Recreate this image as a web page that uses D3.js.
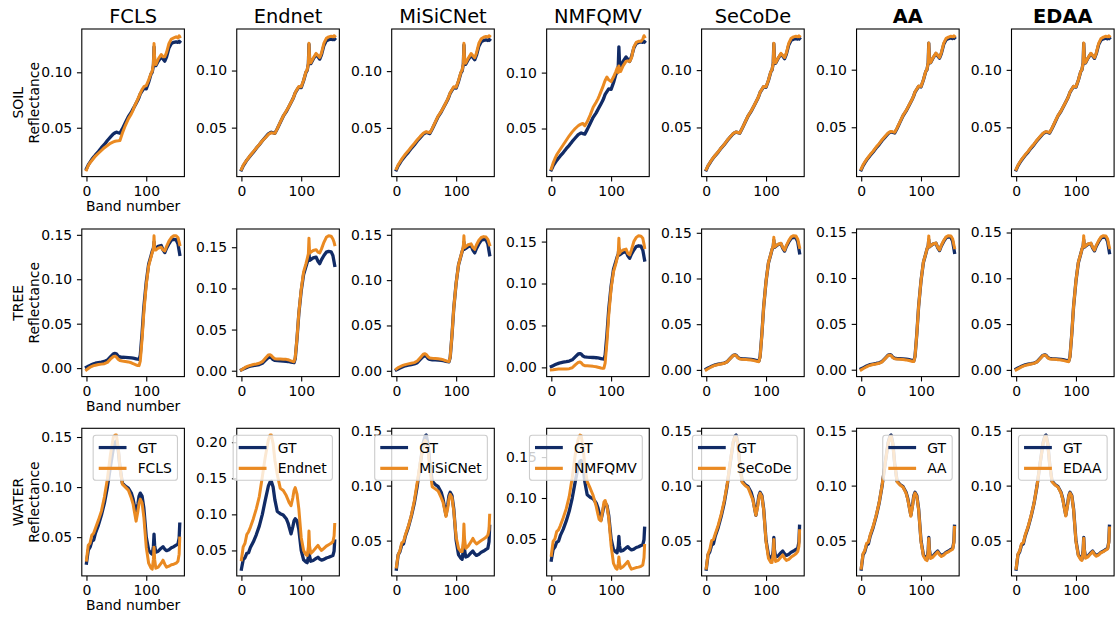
<!DOCTYPE html>
<html><head><meta charset="utf-8">
<script src="https://cdn.jsdelivr.net/npm/d3@7"></script>
<style>
body{margin:0;background:#fff}
svg{display:block}
text{font-family:"DejaVu Sans",sans-serif;fill:#000}
</style>
</head><body>
<svg id="chart" width="1115" height="618"></svg>
<script>
// ---------------- DATA ----------------
const bands = [0,3,6,9,12,15,20,25,30,35,40,45,48,50,53,56,60,65,70,75,78,80,83,86,88,90,93,96,100,104,108,110,112,113,114,116,120,125,128,131,134,138,142,146,150,153,155,156];
const methods = ["FCLS","Endnet","MiSiCNet","NMFQMV","SeCoDe","AA","EDAA"];
const boldMethods = ["AA","EDAA"];
const materials = ["SOIL","TREE","WATER"];
const xTickValues = [0,100];
const yTickStep = 0.05;

const gtSoil = [0.0130,0.0165,0.0190,0.0215,0.0235,0.0255,0.0285,0.0320,0.0350,0.0385,0.0415,0.0445,0.0455,0.0460,0.0455,0.0450,0.0490,0.0545,0.0600,0.0640,0.0670,0.0690,0.0720,0.0750,0.0775,0.0805,0.0830,0.0855,0.0850,0.0910,0.0985,0.1000,0.1060,0.1230,0.1100,0.1060,0.1100,0.1140,0.1120,0.1100,0.1140,0.1220,0.1260,0.1270,0.1275,0.1270,0.1280,0.1275];
const soilFCLS = [0.0120,0.0160,0.0185,0.0205,0.0225,0.0245,0.0270,0.0295,0.0320,0.0340,0.0360,0.0372,0.0378,0.0380,0.0382,0.0385,0.0450,0.0520,0.0580,0.0625,0.0660,0.0690,0.0725,0.0760,0.0785,0.0810,0.0845,0.0870,0.0880,0.0930,0.0990,0.1010,0.1080,0.1260,0.1120,0.1070,0.1120,0.1160,0.1140,0.1140,0.1180,0.1260,0.1300,0.1310,0.1320,0.1310,0.1330,0.1320];
const soilEndnet = [0.0135,0.0170,0.0195,0.0215,0.0238,0.0258,0.0290,0.0322,0.0352,0.0385,0.0412,0.0440,0.0450,0.0455,0.0452,0.0450,0.0492,0.0548,0.0602,0.0645,0.0672,0.0692,0.0722,0.0752,0.0778,0.0808,0.0835,0.0860,0.0858,0.0915,0.0990,0.1005,0.1065,0.1240,0.1105,0.1068,0.1108,0.1150,0.1132,0.1115,0.1155,0.1240,0.1282,0.1295,0.1300,0.1295,0.1305,0.1300];
const soilMiSiCNet = [0.0140,0.0175,0.0200,0.0225,0.0247,0.0268,0.0298,0.0332,0.0362,0.0395,0.0425,0.0452,0.0462,0.0466,0.0462,0.0458,0.0495,0.0550,0.0605,0.0645,0.0673,0.0693,0.0723,0.0755,0.0780,0.0810,0.0836,0.0862,0.0858,0.0918,0.0992,0.1008,0.1068,0.1245,0.1108,0.1070,0.1112,0.1155,0.1135,0.1118,0.1160,0.1245,0.1285,0.1298,0.1305,0.1300,0.1312,0.1308];
const soilNMFQMV = [0.0140,0.0190,0.0230,0.0265,0.0290,0.0315,0.0355,0.0395,0.0435,0.0470,0.0500,0.0525,0.0535,0.0540,0.0545,0.0525,0.0560,0.0620,0.0690,0.0735,0.0765,0.0790,0.0830,0.0870,0.0900,0.0930,0.0960,0.0935,0.0920,0.0960,0.1010,0.1040,0.1000,0.1060,0.1030,0.1010,0.1060,0.1100,0.1105,0.1100,0.1130,0.1230,0.1270,0.1280,0.1280,0.1300,0.1330,0.1320];
const soilSeCoDe = [0.0135,0.0168,0.0192,0.0218,0.0238,0.0258,0.0288,0.0322,0.0352,0.0388,0.0418,0.0447,0.0457,0.0460,0.0456,0.0452,0.0492,0.0547,0.0602,0.0643,0.0672,0.0692,0.0722,0.0752,0.0777,0.0807,0.0833,0.0858,0.0855,0.0913,0.0988,0.1003,0.1063,0.1235,0.1103,0.1064,0.1104,0.1146,0.1128,0.1110,0.1150,0.1235,0.1278,0.1290,0.1295,0.1290,0.1300,0.1295];
const soilAA = [0.0138,0.0172,0.0198,0.0222,0.0243,0.0263,0.0293,0.0328,0.0358,0.0392,0.0422,0.0450,0.0460,0.0464,0.0460,0.0456,0.0495,0.0550,0.0604,0.0644,0.0673,0.0693,0.0722,0.0752,0.0778,0.0808,0.0833,0.0858,0.0855,0.0913,0.0988,0.1003,0.1062,0.1232,0.1102,0.1062,0.1103,0.1144,0.1125,0.1106,0.1147,0.1230,0.1272,0.1283,0.1290,0.1285,0.1295,0.1290];
const soilEDAA = [0.0136,0.0170,0.0196,0.0220,0.0241,0.0261,0.0291,0.0326,0.0356,0.0390,0.0420,0.0449,0.0459,0.0463,0.0459,0.0455,0.0494,0.0549,0.0603,0.0643,0.0672,0.0692,0.0722,0.0752,0.0777,0.0807,0.0832,0.0857,0.0854,0.0912,0.0987,0.1002,0.1062,0.1233,0.1102,0.1063,0.1103,0.1144,0.1125,0.1106,0.1147,0.1230,0.1273,0.1285,0.1292,0.1287,0.1297,0.1292];

const gtTree = [0.0010,0.0020,0.0030,0.0040,0.0048,0.0055,0.0062,0.0068,0.0075,0.0090,0.0125,0.0160,0.0165,0.0160,0.0135,0.0125,0.0122,0.0120,0.0118,0.0115,0.0112,0.0110,0.0105,0.0100,0.0098,0.0145,0.0390,0.0690,0.0970,0.1170,0.1265,0.1315,0.1350,0.1420,0.1340,0.1350,0.1370,0.1380,0.1330,0.1300,0.1350,0.1400,0.1440,0.1450,0.1445,0.1400,0.1320,0.1280];
const treeFCLS = [-0.0020,-0.0005,0.0010,0.0020,0.0028,0.0033,0.0040,0.0045,0.0050,0.0065,0.0100,0.0130,0.0135,0.0125,0.0100,0.0085,0.0080,0.0075,0.0070,0.0060,0.0050,0.0045,0.0035,0.0030,0.0028,0.0080,0.0330,0.0630,0.0940,0.1150,0.1250,0.1300,0.1340,0.1490,0.1330,0.1330,0.1350,0.1360,0.1330,0.1320,0.1370,0.1430,0.1470,0.1490,0.1490,0.1470,0.1420,0.1390];
const treeEndnet = [0.0010,0.0025,0.0040,0.0050,0.0058,0.0065,0.0075,0.0082,0.0090,0.0110,0.0150,0.0190,0.0195,0.0185,0.0160,0.0145,0.0143,0.0142,0.0140,0.0138,0.0133,0.0128,0.0120,0.0113,0.0110,0.0160,0.0400,0.0700,0.0990,0.1200,0.1300,0.1360,0.1420,0.1610,0.1430,0.1440,0.1460,0.1470,0.1440,0.1430,0.1480,0.1560,0.1620,0.1640,0.1635,0.1600,0.1560,0.1530];
const treeMiSiCNet = [0.0020,0.0035,0.0045,0.0055,0.0062,0.0068,0.0076,0.0083,0.0090,0.0108,0.0145,0.0182,0.0188,0.0180,0.0155,0.0142,0.0138,0.0135,0.0132,0.0128,0.0123,0.0118,0.0110,0.0104,0.0102,0.0150,0.0390,0.0690,0.0970,0.1170,0.1270,0.1320,0.1370,0.1490,0.1360,0.1370,0.1390,0.1400,0.1360,0.1340,0.1390,0.1440,0.1470,0.1480,0.1475,0.1450,0.1410,0.1390];
const treeNMFQMV = [-0.0030,-0.0028,-0.0025,-0.0022,-0.0020,-0.0018,-0.0018,-0.0018,-0.0015,-0.0005,0.0030,0.0060,0.0065,0.0055,0.0030,0.0020,0.0018,0.0015,0.0012,0.0008,0.0002,-0.0002,-0.0008,-0.0012,-0.0010,0.0050,0.0300,0.0620,0.0940,0.1140,0.1240,0.1300,0.1360,0.1540,0.1360,0.1380,0.1400,0.1410,0.1360,0.1340,0.1400,0.1500,0.1550,0.1570,0.1565,0.1540,0.1470,0.1430];
const treeSeCoDe = [0.0000,0.0012,0.0023,0.0034,0.0043,0.0050,0.0058,0.0065,0.0072,0.0088,0.0123,0.0158,0.0162,0.0156,0.0132,0.0120,0.0117,0.0115,0.0112,0.0108,0.0104,0.0101,0.0096,0.0091,0.0090,0.0140,0.0385,0.0690,0.0970,0.1175,0.1268,0.1320,0.1355,0.1450,0.1345,0.1355,0.1375,0.1385,0.1338,0.1310,0.1362,0.1415,0.1455,0.1468,0.1465,0.1430,0.1370,0.1340];
const treeAA = [-0.0002,0.0010,0.0021,0.0032,0.0041,0.0048,0.0056,0.0063,0.0070,0.0086,0.0121,0.0156,0.0160,0.0154,0.0130,0.0119,0.0116,0.0114,0.0111,0.0107,0.0103,0.0100,0.0095,0.0090,0.0089,0.0142,0.0390,0.0692,0.0972,0.1175,0.1266,0.1318,0.1352,0.1460,0.1342,0.1352,0.1372,0.1382,0.1335,0.1306,0.1358,0.1410,0.1450,0.1462,0.1460,0.1425,0.1360,0.1330];
const treeEDAA = [0.0000,0.0011,0.0022,0.0033,0.0042,0.0049,0.0057,0.0064,0.0071,0.0087,0.0122,0.0157,0.0161,0.0155,0.0131,0.0120,0.0117,0.0115,0.0112,0.0108,0.0104,0.0101,0.0096,0.0091,0.0090,0.0143,0.0392,0.0693,0.0973,0.1176,0.1267,0.1319,0.1353,0.1465,0.1344,0.1354,0.1374,0.1384,0.1337,0.1308,0.1360,0.1412,0.1452,0.1465,0.1462,0.1428,0.1364,0.1334];

const gtWater = [0.0240,0.0370,0.0400,0.0460,0.0470,0.0540,0.0620,0.0720,0.0840,0.1000,0.1200,0.1390,0.1450,0.1460,0.1380,0.1200,0.1040,0.1010,0.0990,0.0940,0.0880,0.0820,0.0730,0.0830,0.0910,0.0940,0.0910,0.0790,0.0500,0.0370,0.0340,0.0330,0.0410,0.0530,0.0420,0.0350,0.0360,0.0390,0.0405,0.0380,0.0365,0.0375,0.0395,0.0405,0.0420,0.0430,0.0490,0.0630];
const waterFCLS = [0.0270,0.0420,0.0440,0.0520,0.0540,0.0590,0.0670,0.0760,0.0900,0.1080,0.1320,0.1500,0.1520,0.1520,0.1400,0.1200,0.1030,0.1000,0.0970,0.0890,0.0830,0.0760,0.0660,0.0760,0.0840,0.0880,0.0840,0.0700,0.0400,0.0240,0.0190,0.0180,0.0280,0.0400,0.0280,0.0190,0.0200,0.0240,0.0270,0.0230,0.0200,0.0210,0.0225,0.0230,0.0240,0.0260,0.0330,0.0490];
const waterEndnet = [0.0370,0.0550,0.0600,0.0720,0.0760,0.0820,0.0940,0.1080,0.1250,0.1520,0.1800,0.2030,0.2100,0.2100,0.1980,0.1750,0.1550,0.1360,0.1330,0.1260,0.1200,0.1160,0.1120,0.1230,0.1330,0.1370,0.1280,0.1080,0.0680,0.0500,0.0440,0.0430,0.0550,0.0770,0.0560,0.0460,0.0490,0.0540,0.0570,0.0530,0.0500,0.0530,0.0560,0.0580,0.0600,0.0620,0.0700,0.0860];
const waterMiSiCNet = [0.0260,0.0370,0.0410,0.0480,0.0490,0.0550,0.0630,0.0730,0.0860,0.1030,0.1210,0.1370,0.1410,0.1400,0.1320,0.1150,0.0990,0.0970,0.0950,0.0890,0.0850,0.0800,0.0720,0.0800,0.0880,0.0920,0.0890,0.0770,0.0530,0.0430,0.0400,0.0400,0.0500,0.0650,0.0520,0.0430,0.0450,0.0490,0.0520,0.0490,0.0470,0.0485,0.0500,0.0515,0.0530,0.0550,0.0600,0.0730];
const waterNMFQMV = [0.0300,0.0470,0.0500,0.0590,0.0610,0.0660,0.0760,0.0870,0.1020,0.1250,0.1530,0.1720,0.1770,0.1760,0.1620,0.1400,0.1200,0.1120,0.1030,0.0900,0.0800,0.0740,0.0720,0.0850,0.0950,0.0970,0.0900,0.0760,0.0420,0.0200,0.0140,0.0130,0.0200,0.0280,0.0200,0.0140,0.0160,0.0200,0.0225,0.0170,0.0130,0.0140,0.0150,0.0155,0.0165,0.0180,0.0270,0.0420];
const waterSeCoDe = [0.0250,0.0380,0.0420,0.0500,0.0510,0.0560,0.0640,0.0740,0.0860,0.1010,0.1210,0.1400,0.1440,0.1440,0.1370,0.1190,0.1030,0.1000,0.0980,0.0910,0.0870,0.0810,0.0730,0.0810,0.0890,0.0930,0.0900,0.0780,0.0490,0.0340,0.0300,0.0300,0.0380,0.0510,0.0380,0.0310,0.0320,0.0350,0.0370,0.0340,0.0320,0.0330,0.0350,0.0365,0.0380,0.0400,0.0450,0.0590];
const waterAA = [0.0250,0.0380,0.0410,0.0475,0.0485,0.0550,0.0630,0.0730,0.0845,0.1005,0.1200,0.1385,0.1440,0.1448,0.1372,0.1195,0.1035,0.1005,0.0985,0.0932,0.0872,0.0812,0.0722,0.0822,0.0902,0.0932,0.0902,0.0782,0.0490,0.0360,0.0325,0.0318,0.0400,0.0520,0.0410,0.0338,0.0350,0.0380,0.0398,0.0372,0.0355,0.0368,0.0388,0.0398,0.0412,0.0422,0.0482,0.0620];
const waterEDAA = [0.0248,0.0378,0.0408,0.0472,0.0482,0.0548,0.0628,0.0728,0.0843,0.1003,0.1198,0.1384,0.1440,0.1449,0.1373,0.1196,0.1036,0.1006,0.0986,0.0933,0.0873,0.0813,0.0723,0.0823,0.0903,0.0933,0.0903,0.0783,0.0492,0.0362,0.0327,0.0320,0.0402,0.0522,0.0412,0.0340,0.0352,0.0382,0.0400,0.0374,0.0357,0.0370,0.0390,0.0400,0.0414,0.0424,0.0484,0.0615];

// ---------------- LAYOUT / STYLE ----------------
const gtRows = [gtSoil, gtTree, gtWater];
const estRows = [
  [soilFCLS, soilEndnet, soilMiSiCNet, soilNMFQMV, soilSeCoDe, soilAA, soilEDAA],
  [treeFCLS, treeEndnet, treeMiSiCNet, treeNMFQMV, treeSeCoDe, treeAA, treeEDAA],
  [waterFCLS, waterEndnet, waterMiSiCNet, waterNMFQMV, waterSeCoDe, waterAA, waterEDAA]
];
const GT_COLOR = "#112b66", EST_COLOR = "#ea8a22";
const colLeft0 = 81.8, colStep = 154.95, W = 102.6;
const rowTops = [29, 229, 428.3], H = 147.6;
const FS = 13.9, TITLE_FS = 19.4;
const TICK = 4.86, PAD = 4.86, SPINE = 1.1;

const svg = d3.select("#chart");

methods.forEach((m, c) => {
  const x0 = colLeft0 + c * colStep;
  svg.append("text")
    .attr("x", x0 + W / 2).attr("y", 23)
    .attr("text-anchor", "middle")
    .style("font-size", TITLE_FS + "px")
    .style("font-weight", boldMethods.includes(m) ? "bold" : "normal")
    .text(m);
});

materials.forEach((mat, r) => {
  const top = rowTops[r];
  methods.forEach((m, c) => {
    const left = colLeft0 + c * colStep;
    const gt = gtRows[r], est = estRows[r][c];
    const all = gt.concat(est);
    const lo = d3.min(all), hi = d3.max(all), span = hi - lo;
    const y = d3.scaleLinear().domain([lo - 0.05 * span, hi + 0.05 * span]).range([H, 0]);
    const xr = bands[bands.length - 1] - bands[0];
    const x = d3.scaleLinear().domain([bands[0] - 0.05 * xr, bands[bands.length - 1] + 0.05 * xr]).range([0, W]);

    const g = svg.append("g").attr("transform", `translate(${left},${top})`);

    // ticks
    const yd = y.domain();
    const yt = d3.range(Math.ceil(yd[0] / yTickStep - 1e-9), Math.floor(yd[1] / yTickStep + 1e-9) + 1).map(k => k * yTickStep);
    const ax = g.append("g").attr("transform", `translate(0,${H})`)
      .call(d3.axisBottom(x).tickValues(xTickValues).tickSize(TICK).tickPadding(PAD).tickFormat(d3.format("d")));
    const ay = g.append("g")
      .call(d3.axisLeft(y).tickValues(yt).tickSize(TICK).tickPadding(PAD).tickFormat(d3.format(".2f")));
    [ax, ay].forEach(a => {
      a.select(".domain").remove();
      a.attr("font-family", null).attr("font-size", null);
      a.selectAll("line").attr("stroke", "#000").attr("stroke-width", SPINE);
      a.selectAll("text").style("font-size", FS + "px").attr("fill", "#000");
    });

    const line = d3.line().x((d, i) => x(bands[i])).y(d => y(d));
    g.append("path").datum(gt).attr("d", line).attr("fill", "none")
      .attr("stroke", GT_COLOR).attr("stroke-width", 3.3).attr("stroke-linejoin", "round").attr("stroke-linecap", "square");
    g.append("path").datum(est).attr("d", line).attr("fill", "none")
      .attr("stroke", EST_COLOR).attr("stroke-width", 3.0).attr("stroke-linejoin", "round").attr("stroke-linecap", "square");

    g.append("rect").attr("width", W).attr("height", H).attr("fill", "none")
      .attr("stroke", "#000").attr("stroke-width", SPINE);

    if (c === 0) {
      g.append("text").attr("x", W / 2).attr("y", H + 34.5)
        .attr("text-anchor", "middle").style("font-size", FS + "px").text("Band number");
      const lab = svg.append("g").attr("transform", `translate(0,${top + H / 2}) rotate(-90)`);
      lab.append("text").attr("x", 0).attr("y", 18.5).attr("dy", "0.35em")
        .attr("text-anchor", "middle").style("font-size", FS + "px").text(mat);
      lab.append("text").attr("x", 0).attr("y", 34.5).attr("dy", "0.35em")
        .attr("text-anchor", "middle").style("font-size", FS + "px").text("Reflectance");
    }

    if (mat === "WATER") {
      const lg = g.append("g");
      const labels = ["GT", m];
      const tmp = lg.append("text").style("font-size", FS + "px").text(m);
      const tw = Math.max(tmp.node().getComputedTextLength(), 18);
      tmp.remove();
      const bp = 0.4 * FS, hl = 2 * FS, htp = 0.8 * FS, bap = 0.5 * FS;
      const bw = bp * 2 + hl + htp + tw, bh = 45;
      const bx = W - bap - bw, by = bap;
      lg.append("rect").attr("x", bx).attr("y", by).attr("width", bw).attr("height", bh)
        .attr("rx", 2.8).attr("fill", "#fff").attr("fill-opacity", 0.8)
        .attr("stroke", "#cccccc").attr("stroke-width", 1.1);
      labels.forEach((t, i) => {
        const cy = by + 12.3 + i * 20.8;
        lg.append("line").attr("x1", bx + bp).attr("x2", bx + bp + hl)
          .attr("y1", cy).attr("y2", cy)
          .attr("stroke", i === 0 ? GT_COLOR : EST_COLOR).attr("stroke-width", 3.2);
        lg.append("text").attr("x", bx + bp + hl + htp).attr("y", cy).attr("dy", "0.36em")
          .style("font-size", FS + "px").text(t);
      });
    }
  });
});
</script>
</body></html>
